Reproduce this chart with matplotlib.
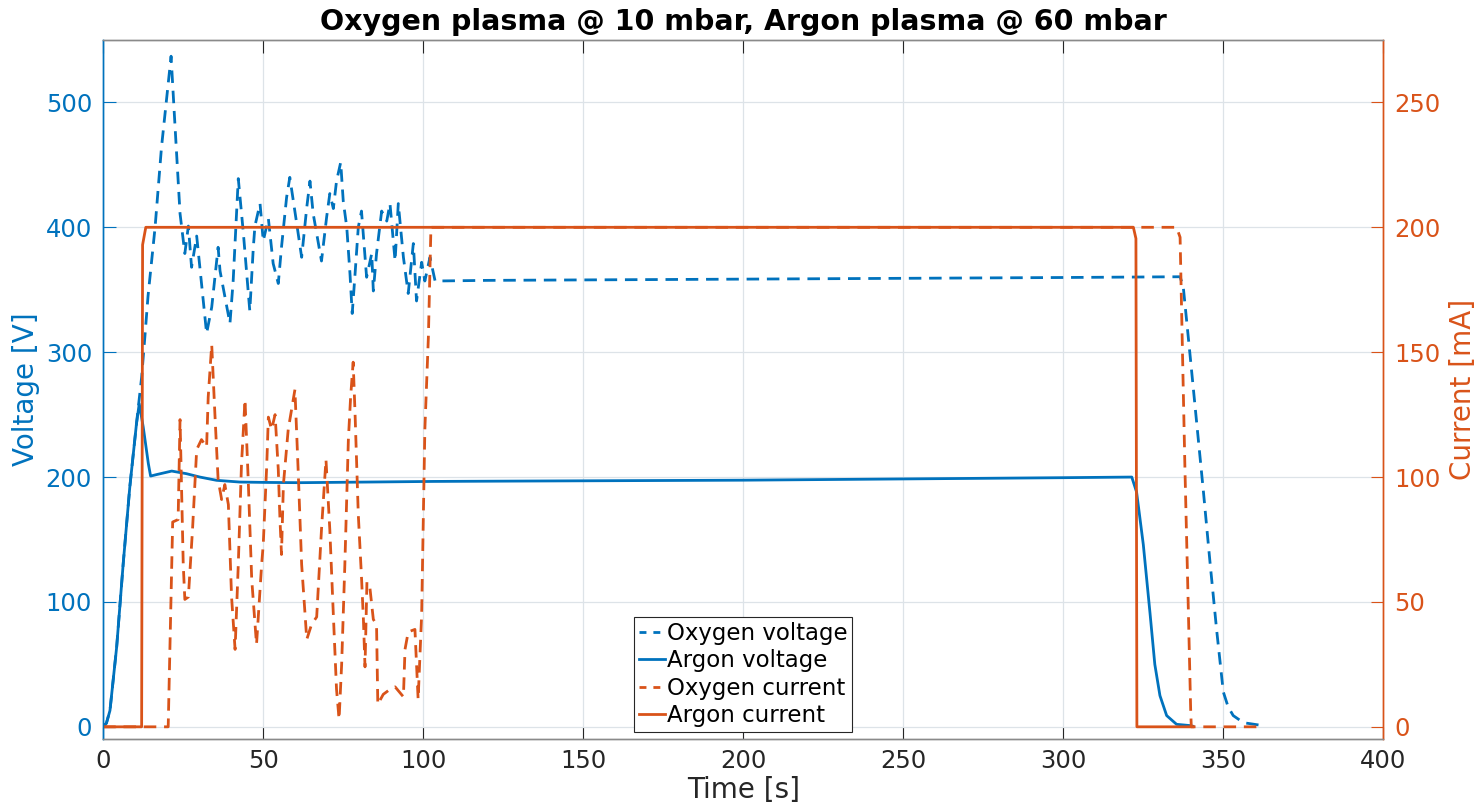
import matplotlib
matplotlib.use("Agg")
import matplotlib.pyplot as plt
from matplotlib.lines import Line2D

blue = '#0072BD'
orange = '#D95319'

# Oxygen voltage [V] against time [s]
t_ox_v = [0, 1.0, 2.1, 4.2, 6.25, 8.3, 10.4, 12.0, 13.0, 14.0, 16.2, 18.2, 20.3, 21.2,
          22.1, 24.0, 25.5, 26.6, 27.6, 29.2, 32.3, 33.9, 35.9, 36.5, 39.6, 40.6,
          42.2, 43.8, 45.8, 46.9, 47.4, 49.0, 50.0, 51.6, 53.1, 54.7, 55.7, 57.3,
          58.3, 60.4, 62.0, 63.6, 64.6, 65.6, 68.2, 69.8, 70.8, 71.9, 72.9, 74.2,
          75.0, 76.1, 77.1, 77.8, 78.7, 79.7, 80.7, 82.3, 83.9, 84.4, 85.4, 87.0,
          88.6, 89.6, 91.2, 92.2, 93.8, 95.3, 96.9, 97.9, 99.5, 100.5, 102.1, 103.7,
          120, 200, 300, 336.5, 337.5, 339.6, 341.7, 343.8, 345.8, 347.9, 350.0,
          351.5, 353.1, 356.3, 361.0]
ox_v = [0, 3, 13, 64, 131, 192, 243, 280, 312, 345, 400, 464, 515, 537,
        496, 411, 379, 401, 368, 393, 315, 336, 384, 365, 323, 357,
        439, 395, 333, 384, 401, 419, 389, 407, 371, 355, 384, 424,
        440, 404, 376, 416, 437, 411, 373, 408, 427, 415, 437, 452,
        421, 400, 363, 331, 363, 400, 413, 360, 379, 349, 379, 413,
        405, 419, 373, 419, 376, 347, 387, 341, 372, 357, 376, 357,
        357.5, 358.5, 359.8, 360.4, 352, 298, 243, 188, 133, 78, 28,
        16, 9, 3.3, 1.5]

# Argon voltage [V] against time [s]
t_ar_v = [0, 1.0, 2.1, 4.2, 6.25, 8.3, 10.4, 11.25, 12.5, 14.1, 14.8, 16.7, 21.4,
          26.0, 30.2, 35.4, 42.7, 51.0, 61.5, 82.3, 103, 150, 200, 250, 300,
          321.4, 322.9, 325.0, 327.1, 328.6, 330.2, 332.3, 335.4, 339.6, 340.5]
ar_v = [0, 3, 13, 64, 131, 192, 243, 258.7, 240, 210.7, 200.8, 202, 204.8,
        202.7, 200, 197.4, 196, 195.7, 195.5, 196, 196.5, 197, 197.5, 198.5, 199.5,
        200, 188, 146, 91, 50, 25, 9, 2, 1, 0.5]

# Oxygen current [mA] against time [s]
t_ox_i = [0, 20.3, 21.7, 23.4, 24.0, 25.0, 25.5, 26.6, 27.9, 29.2, 30.7, 32.3,
          32.8, 33.9, 34.9, 35.9, 37.0, 38.0, 39.1, 40.1, 41.2, 42.2, 43.2, 44.3,
          45.3, 46.4, 47.9, 49.5, 50.0, 51.1, 51.6, 52.6, 53.7, 54.7, 55.2, 55.7,
          56.3, 57.8, 59.9, 60.9, 62.0, 63.6, 65.1, 66.7, 68.2, 69.6, 70.8, 71.9,
          72.9, 73.7, 74.5, 75.5, 76.6, 77.3, 78.1, 78.7, 79.7, 80.7, 81.3, 81.8,
          82.4, 83.3, 84.4, 85.4, 85.8, 87.5, 89.6, 91.2, 93.8, 94.3, 95.3, 97.4,
          98.4, 99.5, 100.5, 101.6, 102.4, 335.4, 336.5, 336.9, 338.0, 339.0,
          339.8, 340.0, 361.0]
ox_i = [0, 0, 82, 83, 123, 65, 51, 52, 79, 111, 115, 112,
        132, 153, 125, 99, 91, 97, 89, 52, 31, 65, 105, 131,
        99, 59, 33, 65, 73, 105, 124, 119, 125, 103, 84, 69,
        97, 119, 135, 103, 65, 35, 41, 44, 79, 107, 79, 45,
        15, 3, 25, 65, 115, 132, 146, 125, 85, 60, 43, 24,
        58, 56, 43, 41, 9, 13, 15, 16, 12, 31, 38, 39,
        11, 45, 119, 156, 200, 200, 196, 171, 104, 51,
        7, 0, 0]

# Argon current [mA] against time [s]
t_ar_i = [0, 12.0, 12.3, 13.3, 321.9, 322.7, 323.0, 340.5]
ar_i = [0, 0, 193, 200, 200, 195.5, 0, 0]

x_ticks = [0, 50, 100, 150, 200, 250, 300, 350, 400]
v_ticks = [0, 100, 200, 300, 400, 500]
i_ticks = [0, 50, 100, 150, 200, 250]

fig = plt.figure(figsize=(14.79, 8.11), dpi=100)
ax = fig.add_axes([0.0698, 0.0884, 0.8655, 0.8623])
ax2 = ax.twinx()

lw = 2.0
dash = (4.5, 2.8)
l1, = ax.plot(t_ox_v, ox_v, color=blue, lw=lw, dashes=dash)
l2, = ax.plot(t_ar_v, ar_v, color=blue, lw=lw)
l3, = ax2.plot(t_ox_i, ox_i, color=orange, lw=lw, dashes=dash)
l4, = ax2.plot(t_ar_i, ar_i, color=orange, lw=lw)

ax.set_xlim(0, 400)
ax.set_ylim(-10, 550)
ax2.set_ylim(-5, 275)
ax.set_xticks(x_ticks)
ax.set_yticks(v_ticks)
ax2.set_yticks(i_ticks)

ax.grid(True, color='#dde3e8', lw=0.9)
ax.set_axisbelow(True)

tick_fs = 17.5
ax.tick_params(axis='x', direction='in', length=9, width=0.8, colors='#262626',
               labelsize=tick_fs, top=True, pad=7)
ax.tick_params(axis='y', direction='in', length=9, width=0.8, colors=blue,
               labelsize=tick_fs, pad=8)
ax2.tick_params(axis='y', direction='in', length=9, width=0.8, colors=orange,
                labelsize=tick_fs, pad=8)

for a in (ax, ax2):
    a.spines['top'].set_color('#8a8a8a')
    a.spines['bottom'].set_color('#8a8a8a')
    a.spines['left'].set_color(blue)
    a.spines['right'].set_color(orange)
    for s in a.spines.values():
        s.set_linewidth(1.0)

ax.set_xlabel('Time [s]', fontsize=20, color='#262626', labelpad=2)
ax.set_ylabel('Voltage [V]', fontsize=20, color=blue, labelpad=4)
ax2.set_ylabel('Current [mA]', fontsize=20, color=orange, labelpad=6)
ax.set_title('Oxygen plasma @ 10 mbar, Argon plasma @ 60 mbar',
             fontsize=20.5, fontweight='bold', pad=7)

handles = [Line2D([], [], color=blue, lw=lw, dashes=(2.5, 2.5)), l2,
           Line2D([], [], color=orange, lw=lw, dashes=(2.5, 2.5)), l4]
labels = ['Oxygen voltage', 'Argon voltage', 'Oxygen current', 'Argon current']
leg = ax2.legend(handles, labels, loc='lower left', bbox_to_anchor=(0.4146, 0.0104),
                 fontsize=16.5, frameon=True, fancybox=False, framealpha=1,
                 edgecolor='#262626', handlelength=1.15, handletextpad=0.1,
                 borderpad=0.2, labelspacing=0.2, borderaxespad=0)
leg.get_frame().set_linewidth(0.8)

fig.savefig('out.png', dpi=100)
